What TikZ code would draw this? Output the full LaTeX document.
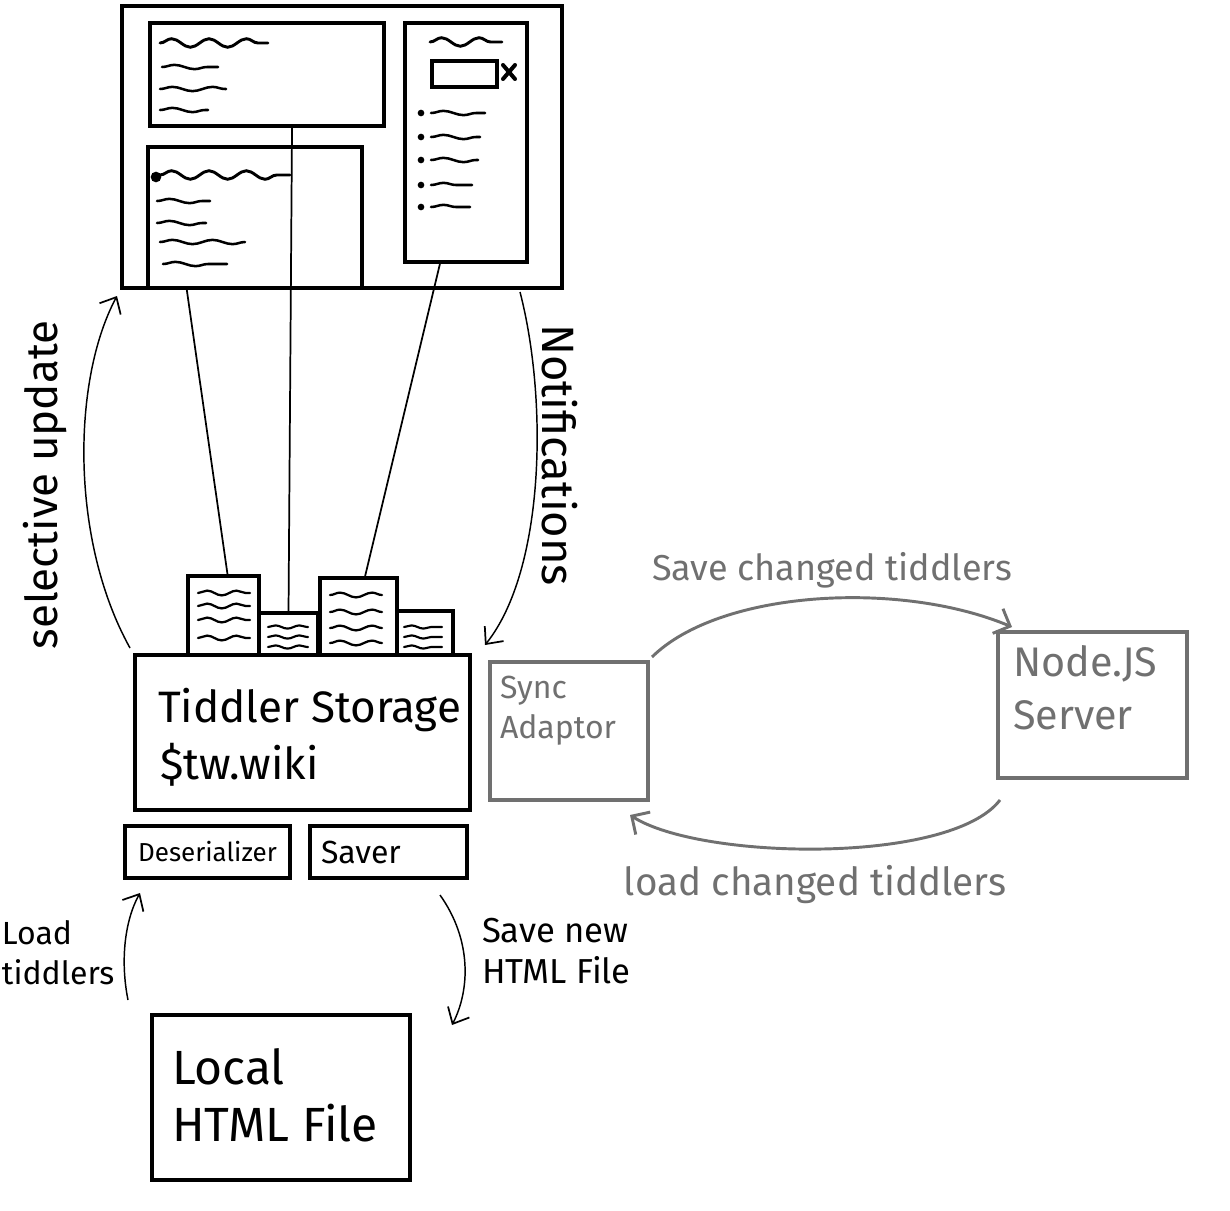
\documentclass[tikz,border=0pt]{standalone}
\usepackage{fontspec}
\setmainfont{Fira Sans}
\usetikzlibrary{fit,calc,arrows.meta,decorations.pathmorphing}
\definecolor{pen}{RGB}{0,0,0}
\definecolor{pencil}{RGB}{112,112,112}
\tikzset{
  frame/.style={draw=pen, line width=3pt, inner sep=0pt, outer sep=0pt},
  gframe/.style={draw=pencil, line width=2.6pt, inner sep=0pt, outer sep=0pt},
  wire/.style={draw=pen, line width=1.3pt},
  flow/.style={draw=pen, line width=1.1pt, -{Straight Barb[length=10pt,width=18pt,line width=1.3pt]}},
  gflow/.style={draw=pencil, line width=2.2pt, -{Straight Barb[length=10pt,width=20pt,line width=2.2pt]}},
  head/.style={draw=pen, line width=2.2pt, line cap=round, decorate, decoration={snake, amplitude=3.2pt, segment length=28pt}},
  scrib/.style={draw=pen, line width=1.9pt, line cap=round, decorate, decoration={snake, amplitude=1.6pt, segment length=30pt}},
  txt/.style={inner sep=0pt, outer sep=0pt, anchor=west, text=pen},
  gtxt/.style={inner sep=0pt, outer sep=0pt, text=pencil},
  dot/.style={fill=pen, circle, inner sep=0pt, minimum size=5pt},
}
\begin{document}
\begin{tikzpicture}[x=0.75pt, y=-0.75pt]
\path[use as bounding box, fill=white] (0,0) rectangle (1230,1210);

% ---------- browser window ----------
\node[frame, fit={(122,6) (562,288)}] (browser) {};
\node[frame, fit={(150,23) (384,126)}] (paneA) {};
\node[frame, fit={(148,147) (362,288)}] (paneB) {};
\node[frame, fit={(405,23) (527,262)}] (side) {};
\node[frame, line width=2.6pt, fit={(432,61) (497,87)}] (search) {};
\node[inner sep=0pt] (close) at (509,72) {};
\draw[pen, line width=3pt, line cap=round] ($(close)+(-6,-7)$) -- ($(close)+(6,7)$);
\draw[pen, line width=3pt, line cap=round] ($(close)+(-6,7)$) -- ($(close)+(6,-7)$);

% pane A scribbles
\draw[head] (160,43) -- (268,43);
\draw[scrib] (162,67) -- (218,67);
\draw[scrib] (160,89) -- (226,89);
\draw[scrib] (160,110) -- (208,110);
% pane B scribbles
\node[dot, minimum size=8pt] (bd) at (156,177) {};
\draw[head] (160,175) -- (290,175);
\draw[scrib] (157,201) -- (210,201);
\draw[scrib] (157,223) -- (206,223);
\draw[scrib] (160,242) -- (245,242);
\draw[scrib] (163,264) -- (227,264);
% sidebar scribbles
\draw[head] (430,42) -- (502,42);
\foreach \yy/\ln in {113/485,137/480,160/478,185/472,207/470}{
  \node[dot] at (421,\yy) {};
  \draw[scrib] (431,\yy) -- (\ln,\yy);
}

% ---------- tiddler storage ----------
\node[frame, fit={(135,655) (470,810)}] (store) {};
\node[frame, line width=2.6pt, fit={(188,576) (259,655)}] (c1) {};
\node[frame, line width=2.6pt, fit={(259,613) (318,655)}] (c2) {};
\node[frame, line width=2.6pt, fit={(320,578) (397,655)}] (c3) {};
\node[frame, line width=2.6pt, fit={(397,611) (453,655)}] (c4) {};
\foreach \yy in {593,606,620,638}{\draw[scrib, line width=1.7pt, decoration={snake, amplitude=1.8pt, segment length=22pt}] (198,\yy) -- (250,\yy);}
\foreach \yy in {627,637,647}{\draw[scrib, line width=1.6pt, decoration={snake, amplitude=1.2pt, segment length=18pt}] (268,\yy) -- (308,\yy);}
\foreach \yy in {595,612,628,643}{\draw[scrib, line width=1.7pt, decoration={snake, amplitude=1.8pt, segment length=24pt}] (330,\yy) -- (382,\yy);}
\foreach \yy in {627,637,647}{\draw[scrib, line width=1.6pt, decoration={snake, amplitude=1.2pt, segment length=18pt}] (404,\yy) -- (442,\yy);}

\node[txt, font=\fontsize{33}{40}\selectfont] (storeT) at (158,710) {Tiddler Storage};
\node[txt, font=\fontsize{33}{40}\selectfont] (storeW) at (160,765) {\$tw.wiki};

\node[frame, fit={(125,826) (290,878)}] (deser) {};
\node[frame, fit={(310,826) (467,878)}] (saver) {};
\node[inner sep=0pt, font=\fontsize{19.5}{22}\selectfont] (deserT) at (deser.center) {Deserializer};
\node[txt, font=\fontsize{24}{28}\selectfont] (saverT) at (321,852) {Saver};

% wires from browser panes to tiddlers
\draw[wire] ($(paneB.south west)!0.18!(paneB.south east)$) -- ($(c1.north west)!0.56!(c1.north east)$);
\draw[wire] ($(paneA.south west)!0.607!(paneA.south east)$) -- ($(c2.north west)!0.5!(c2.north east)$);
\draw[wire] ($(side.south west)!0.29!(side.south east)$) -- ($(c3.north west)!0.58!(c3.north east)$);

% selective update / notifications
\draw[flow] ($(store.north west)+(-5,-7)$) .. controls (70,540) and (72,380) .. ($(browser.south west)+(-5,8)$);
\node[inner sep=0pt, rotate=90, font=\fontsize{33}{40}\selectfont] (selT) at (45,485) {selective update};
\draw[flow] ($(browser.south east)+(-42,4)$) .. controls (548,400) and (545,570) .. ($(store.north east)+(15,-10)$);
\node[inner sep=0pt, rotate=-90, font=\fontsize{34}{40}\selectfont] (notT) at (560,455) {Notifications};

% ---------- sync adaptor & node server ----------
\node[gframe, fit={(490,662) (648,800)}] (sync) {};
\node[gtxt, anchor=north west, align=left, font=\fontsize{24}{30}\selectfont] (syncT) at (500,676) {Sync\\Adaptor};
\node[gframe, fit={(998,632) (1187,778)}] (nodejs) {};
\node[gtxt, anchor=north west, align=left, font=\fontsize{31}{40}\selectfont] (nodeT) at (1013,645) {Node.JS\\Server};

\draw[gflow] ($(sync.north east)+(4,-5)$) .. controls (720,590) and (900,580) .. ($(nodejs.north west)+(14,-5)$);
\node[gtxt, font=\fontsize{27}{32}\selectfont] (saveChT) at (832,570) {Save changed tiddlers};
\draw[gflow] ($(nodejs.south west)+(2,22)$) .. controls (950,865) and (700,860) .. ($(sync.south east)+(-18,15)$);
\node[gtxt, font=\fontsize{29}{34}\selectfont] (loadChT) at (815,885) {load changed tiddlers};

% ---------- local file ----------
\node[frame, fit={(152,1015) (410,1180)}] (local) {};
\node[txt, anchor=north west, align=left, font=\fontsize{36}{43}\selectfont] (localT) at (172,1048) {Local\\HTML File};

\draw[flow] ($(local.north west)+(-24,-15)$) .. controls (120,960) and (125,920) .. ($(deser.south west)+(15,15)$);
\node[txt, anchor=north west, align=left, font=\fontsize{24}{30}\selectfont] (loadT) at (2,920) {Load\\tiddlers};
\draw[flow] ($(saver.south east)+(-27,17)$) .. controls (472,940) and (470,990) .. ($(local.north east)+(42,10)$);
\node[txt, anchor=north west, align=left, font=\fontsize{26}{31}\selectfont] (saveT) at (482,918) {Save new\\HTML File};
\end{tikzpicture}
\end{document}
